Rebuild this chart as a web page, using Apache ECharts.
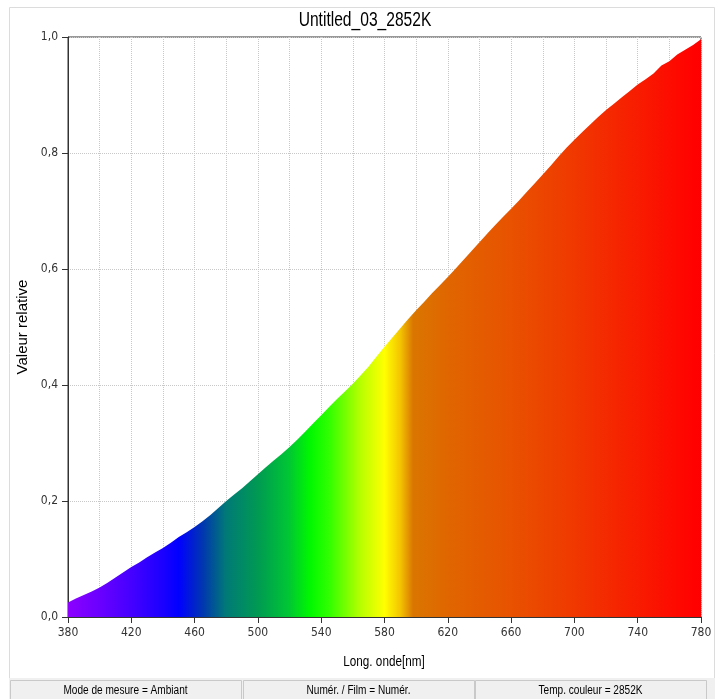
<!DOCTYPE html>
<html>
<head>
<meta charset="utf-8">
<title>Untitled_03_2852K</title>
<script src="https://cdn.jsdelivr.net/npm/echarts@6/dist/echarts.min.js"></script>
<style>
  html, body { margin: 0; padding: 0; background: #ffffff; }
  #chart { width: 723px; height: 699px; }
</style>
</head>
<body>
<div id="chart"></div>
<script>
// Relative spectral power of the measured source, sampled every 5 nm
const wavelengths = [
  380, 385, 390, 395, 400, 405, 410, 415, 420, 425, 430, 435, 440, 445, 450, 455,
  460, 465, 470, 475, 480, 485, 490, 495, 500, 505, 510, 515, 520, 525, 530, 535,
  540, 545, 550, 555, 560, 565, 570, 575, 580, 585, 590, 595, 600, 605, 610, 615,
  620, 625, 630, 635, 640, 645, 650, 655, 660, 665, 670, 675, 680, 685, 690, 695,
  700, 705, 710, 715, 720, 725, 730, 735, 740, 745, 750, 755, 760, 765, 770, 775, 780
];
const relativeValues = [
  0.025, 0.032, 0.038, 0.044, 0.051, 0.059, 0.068, 0.077, 0.086, 0.094, 0.103, 0.111, 0.119, 0.128, 0.138, 0.146,
  0.155, 0.165, 0.176, 0.188, 0.200, 0.211, 0.222, 0.234, 0.246, 0.258, 0.270, 0.281, 0.293, 0.306, 0.320, 0.334,
  0.348, 0.362, 0.376, 0.389, 0.402, 0.417, 0.432, 0.449, 0.466, 0.482, 0.498, 0.514, 0.529, 0.543, 0.558, 0.572,
  0.586, 0.601, 0.616, 0.631, 0.646, 0.661, 0.676, 0.690, 0.704, 0.718, 0.733, 0.748, 0.763, 0.778, 0.794, 0.809,
  0.823, 0.836, 0.849, 0.862, 0.874, 0.885, 0.896, 0.907, 0.918, 0.927, 0.937, 0.951, 0.958, 0.970, 0.978, 0.986, 0.996
];

// Axis ranges and labels
const xMin = 380, xMax = 780, xGridStep = 20, xLabelStep = 40;
const yTicks = [0, 0.2, 0.4, 0.6, 0.8, 1.0];

// Texts
const chartTitle = 'Untitled_03_2852K';
const xName = 'Long. onde[nm]';
const yName = 'Valeur relative';
const statusCells = ['Mode de mesure = Ambiant', 'Numér. / Film = Numér.', 'Temp. couleur = 2852K'];

// Visible-spectrum colours used to paint the area under the curve
const spectrumStops = [
  [380, '#8c00ff'], [400, '#6a00ff'], [420, '#4500ff'], [440, '#1a00ff'], [450, '#0000ff'],
  [465, '#0036b0'], [480, '#007a76'], [500, '#009a52'], [520, '#00c832'], [533, '#00f800'],
  [545, '#30ff00'], [565, '#b8ff00'], [580, '#ffff00'], [590, '#f4c400'], [598, '#da7600'],
  [620, '#e06600'], [660, '#e85200'], [700, '#f03800'], [740, '#f81c00'], [770, '#ff0500'], [780, '#ff0000']
];

const NARROW = '"DejaVu Sans Condensed", "Liberation Sans Narrow", sans-serif';
const REGULAR = '"Liberation Sans", Arial, sans-serif';

const seriesData = wavelengths.map((w, i) => [w, relativeValues[i]]);
const gradient = new echarts.graphic.LinearGradient(0, 0, 1, 0,
  spectrumStops.map(([w, c]) => ({ offset: (w - xMin) / (xMax - xMin), color: c })));

const gridLine = { color: '#c8c8c8', width: 1, type: [1, 1] };
const axisDark = { color: '#333333', width: 1 };

const chart = echarts.init(document.getElementById('chart'), null, { renderer: 'canvas' });

// Horizontally condensed text, centred on (x, y)
function condensedText(text, x, y, size, squeeze, z) {
  return {
    type: 'text', x: x, y: y, scaleX: squeeze, scaleY: 1, silent: true, z: z || 3,
    style: { text: text, fill: '#000000', font: size + 'px ' + REGULAR, align: 'center', verticalAlign: 'middle' }
  };
}

// Status bar at the bottom of the window
const cellX = [10, 243, 475];
const cellW = 231;
const statusGraphics = [{
  type: 'rect', shape: { x: 9, y: 678, width: 706, height: 21 },
  style: { fill: '#f0f0f0', stroke: null }, silent: true, z: 0
}];
statusCells.forEach((t, i) => {
  statusGraphics.push({
    type: 'rect', shape: { x: cellX[i] + 0.5, y: 680.5, width: cellW, height: 19 },
    style: { fill: '#f0f0f0', stroke: '#c9c9c9', lineWidth: 1 }, silent: true, z: 1
  });
  statusGraphics.push(condensedText(t, cellX[i] + cellW / 2, 691, 12, 0.84, 2));
});

chart.setOption({
  animation: false,
  backgroundColor: '#ffffff',
  grid: {
    left: 68, right: 22, top: 37, bottom: 82,
    show: true, borderColor: '#333333', borderWidth: 1, backgroundColor: 'transparent'
  },
  xAxis: [
    {
      type: 'value', min: xMin, max: xMax, interval: xGridStep,
      axisLine: { show: true, onZero: false, lineStyle: axisDark },
      axisTick: { show: false },
      axisLabel: {
        margin: 10, fontFamily: NARROW, fontSize: 12, color: '#333333',
        formatter: v => ((v - xMin) % xLabelStep === 0 ? String(v) : '')
      },
      splitLine: { show: true, lineStyle: gridLine }
    },
    {
      // tick marks every 40 nm, sharing the bottom edge of the plot
      type: 'value', min: 0, max: xMax - xMin, interval: xLabelStep, position: 'bottom',
      axisLine: { show: false },
      axisTick: { show: true, inside: false, length: 6, lineStyle: axisDark },
      axisLabel: { show: false },
      splitLine: { show: false }
    }
  ],
  yAxis: {
    type: 'value', min: yTicks[0], max: yTicks[yTicks.length - 1], interval: 0.2,
    name: yName, nameLocation: 'middle', nameGap: 38, nameRotate: 90,
    nameTextStyle: { fontFamily: REGULAR, fontSize: 15, color: '#000000' },
    axisLine: { show: true, onZero: false, lineStyle: axisDark },
    axisTick: { show: true, length: 6, lineStyle: axisDark },
    axisLabel: {
      margin: 10, fontFamily: NARROW, fontSize: 12, color: '#333333',
      formatter: v => v.toFixed(1).replace('.', ',')
    },
    splitLine: { show: true, lineStyle: gridLine }
  },
  graphic: [
    {
      type: 'rect', shape: { x: 9.5, y: 7.5, width: 705, height: 692 },
      style: { fill: null, stroke: '#dcdcdc', lineWidth: 1 }, silent: true, z: -1
    },
    condensedText(chartTitle, 365, 20, 20, 0.78),
    condensedText(xName, 384, 662, 15, 0.78)
  ].concat(statusGraphics),
  series: [
    {
      type: 'line',
      xAxisIndex: 0,
      data: seriesData,
      showSymbol: false,
      symbol: 'none',
      smooth: false,
      silent: true,
      lineStyle: { width: 0, opacity: 0 },
      areaStyle: { color: gradient, opacity: 1 },
      z: 2
    }
  ]
});
</script>
</body>
</html>
